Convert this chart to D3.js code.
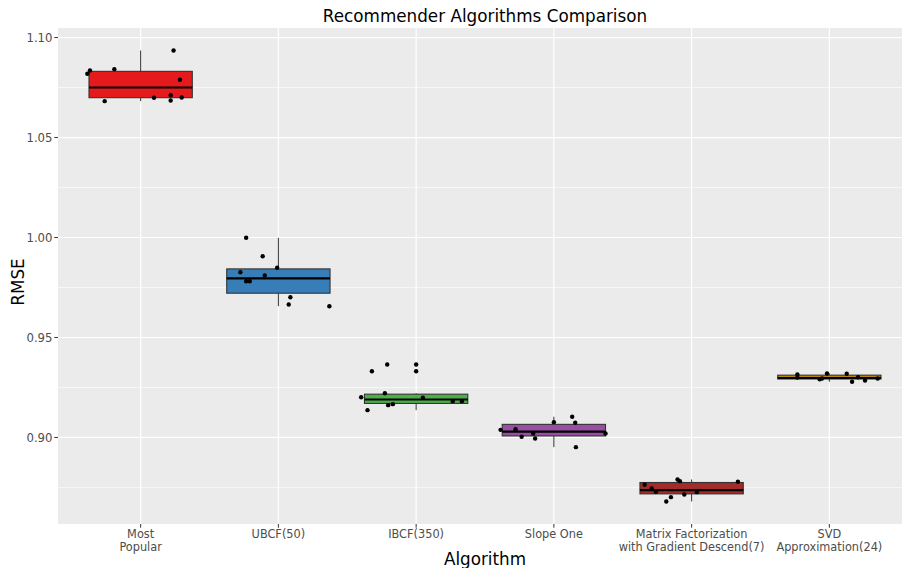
<!DOCTYPE html>
<html>
<head>
<meta charset="utf-8">
<script src="https://cdn.jsdelivr.net/npm/d3@7"></script>
<style>
  html, body { margin: 0; padding: 0; background: #ffffff; }
  svg { display: block; font-family: "DejaVu Sans", sans-serif; }
</style>
</head>
<body>
<svg id="chart" width="902" height="568"></svg>
<script>
// ---------------- data ----------------
const categories = [
  "Most\nPopular",
  "UBCF(50)",
  "IBCF(350)",
  "Slope One",
  "Matrix Factorization\nwith Gradient Descend(7)",
  "SVD\nApproximation(24)"
];
const boxColors = ["#E41A1C", "#377EB8", "#4DAF4A", "#984EA3", "#A52A2A", "#B8860B"];

const mostPopular = [1.0819, 1.0835, 1.0842, 1.0682, 1.0935, 1.0789, 1.0699, 1.0712, 1.0685, 1.0700];
const mostPopularJitter = [-0.387, -0.368, -0.191, -0.261, 0.239, 0.285, 0.097, 0.218, 0.218, 0.298];

const ubcf = [0.99985, 0.99065, 0.98485, 0.98265, 0.9810, 0.97815, 0.97815, 0.97015, 0.9665, 0.96565];
const ubcfJitter = [-0.234, -0.114, -0.009, -0.276, -0.099, -0.234, -0.208, 0.087, 0.075, 0.370];

const ibcf = [0.93315, 0.9365, 0.92015, 0.92215, 0.91985, 0.91365, 0.91615, 0.91665, 0.91815, 0.91815];
const ibcfJitter = [-0.321, -0.210, -0.399, -0.227, 0.049, -0.353, -0.203, -0.169, 0.266, 0.332];

const slopeOne = [0.9038, 0.90415, 0.90035, 0.902, 0.8995, 0.90765, 0.91035, 0.90735, 0.89515, 0.902];
const slopeOneJitter = [-0.387, -0.278, -0.234, -0.150, -0.136, 0.0, 0.133, 0.155, 0.160, 0.375];

const matrixFact = [0.87635, 0.8745, 0.87285, 0.868, 0.87015, 0.879, 0.87815, 0.8715, 0.87265, 0.87785];
const matrixFactJitter = [-0.341, -0.290, -0.259, -0.184, -0.150, -0.102, -0.085, -0.053, 0.038, 0.336];

const svd = [0.9315, 0.930, 0.92915, 0.9295, 0.932, 0.93185, 0.92785, 0.93015, 0.9285, 0.9295];
const svdJitter = [-0.232, -0.232, -0.070, -0.053, -0.017, 0.126, 0.165, 0.208, 0.259, 0.351];

const yMajorTicks = [0.90, 0.95, 1.00, 1.05, 1.10];
const yMinorTicks = [0.875, 0.925, 0.975, 1.025, 1.075];

const titleText = "Recommender Algorithms Comparison";
const xTitle = "Algorithm";
const yTitle = "RMSE";

// ---------------- build ----------------
const seriesValues = [mostPopular, ubcf, ibcf, slopeOne, matrixFact, svd];
const seriesJitter = [mostPopularJitter, ubcfJitter, ibcfJitter, slopeOneJitter, matrixFactJitter, svdJitter];

const svg = d3.select("#chart");
const panel = { left: 58, right: 912, top: 28, bottom: 524 };

const x = d3.scalePoint().domain(categories).range([panel.left, panel.right]).padding(0.6);
const step = x.step();

const allVals = seriesValues.flat();
const vMin = d3.min(allVals), vMax = d3.max(allVals);
const pad = (vMax - vMin) * 0.05;
const y = d3.scaleLinear().domain([vMin - pad, vMax + pad]).range([panel.bottom, panel.top]);

// panel background
svg.append("rect")
  .attr("x", panel.left).attr("y", panel.top)
  .attr("width", panel.right - panel.left).attr("height", panel.bottom - panel.top)
  .attr("fill", "#EBEBEB");

// minor grid
svg.append("g").selectAll("line").data(yMinorTicks).join("line")
  .attr("x1", panel.left).attr("x2", panel.right)
  .attr("y1", d => y(d)).attr("y2", d => y(d))
  .attr("stroke", "#ffffff").attr("stroke-width", 0.6);

// major grid
svg.append("g").selectAll("line").data(yMajorTicks).join("line")
  .attr("x1", panel.left).attr("x2", panel.right)
  .attr("y1", d => y(d)).attr("y2", d => y(d))
  .attr("stroke", "#ffffff").attr("stroke-width", 1.2);
svg.append("g").selectAll("line").data(categories).join("line")
  .attr("x1", d => x(d)).attr("x2", d => x(d))
  .attr("y1", panel.top).attr("y2", panel.bottom)
  .attr("stroke", "#ffffff").attr("stroke-width", 1.2);

// box stats
const stats = seriesValues.map((vals, i) => {
  const s = vals.slice().sort(d3.ascending);
  const q1 = d3.quantile(s, 0.25), med = d3.quantile(s, 0.5), q3 = d3.quantile(s, 0.75);
  const iqr = q3 - q1;
  const lo = q1 - 1.5 * iqr, hi = q3 + 1.5 * iqr;
  const inside = s.filter(v => v >= lo && v <= hi);
  return {
    cat: categories[i], color: boxColors[i],
    q1, med, q3, wLo: d3.min(inside), wHi: d3.max(inside),
    outliers: s.filter(v => v < lo || v > hi)
  };
});

const boxW = step * 0.75;
const gBox = svg.append("g");
stats.forEach(st => {
  const cx = x(st.cat);
  const g = gBox.append("g");
  g.append("line").attr("x1", cx).attr("x2", cx)
    .attr("y1", y(st.wHi)).attr("y2", y(st.q3))
    .attr("stroke", "#333333").attr("stroke-width", 1);
  g.append("line").attr("x1", cx).attr("x2", cx)
    .attr("y1", y(st.q1)).attr("y2", y(st.wLo))
    .attr("stroke", "#333333").attr("stroke-width", 1);
  g.append("rect")
    .attr("x", cx - boxW / 2).attr("width", boxW)
    .attr("y", y(st.q3)).attr("height", y(st.q1) - y(st.q3))
    .attr("fill", st.color).attr("stroke", "#333333").attr("stroke-width", 1.1);
  g.append("line")
    .attr("x1", cx - boxW / 2).attr("x2", cx + boxW / 2)
    .attr("y1", y(st.med)).attr("y2", y(st.med))
    .attr("stroke", "#000000").attr("stroke-width", 2.1);
  g.selectAll("circle.out").data(st.outliers).join("circle")
    .attr("class", "out")
    .attr("cx", cx).attr("cy", d => y(d)).attr("r", 2.2).attr("fill", "#000");
});

// jittered points
const points = [];
seriesValues.forEach((vals, i) => vals.forEach((v, j) => points.push({ cat: categories[i], v, jit: seriesJitter[i][j] })));
svg.append("g").selectAll("circle").data(points).join("circle")
  .attr("cx", d => x(d.cat) + d.jit * step)
  .attr("cy", d => y(d.v))
  .attr("r", 2.2)
  .attr("fill", "#000000");

// y axis
const yAxis = svg.append("g");
yAxis.selectAll("line").data(yMajorTicks).join("line")
  .attr("x1", panel.left - 3.7).attr("x2", panel.left)
  .attr("y1", d => y(d)).attr("y2", d => y(d))
  .attr("stroke", "#333333").attr("stroke-width", 1);
yAxis.selectAll("text").data(yMajorTicks).join("text")
  .attr("x", panel.left - 5.5).attr("y", d => y(d))
  .attr("dy", "0.35em")
  .attr("text-anchor", "end")
  .attr("font-size", "11.7px")
  .attr("fill", "#4D4D4D")
  .text(d => d3.format(".2f")(d));

// x axis
const xAxis = svg.append("g");
xAxis.selectAll("line").data(categories).join("line")
  .attr("x1", d => x(d)).attr("x2", d => x(d))
  .attr("y1", panel.bottom).attr("y2", panel.bottom + 3.7)
  .attr("stroke", "#333333").attr("stroke-width", 1);
const xt = xAxis.selectAll("text").data(categories).join("text")
  .attr("text-anchor", "middle")
  .attr("font-size", "12.6px")
  .attr("font-family", "'DejaVu Sans Condensed', 'DejaVu Sans', sans-serif")
  .attr("fill", "#4D4D4D");
xt.each(function (d) {
  const lines = d.split("\n");
  d3.select(this).selectAll("tspan").data(lines).join("tspan")
    .attr("x", x(d))
    .attr("y", (l, k) => panel.bottom + 13.5 + k * 13.3)
    .text(l => l);
});

// titles
svg.append("text")
  .attr("x", (panel.left + panel.right) / 2).attr("y", 21.5)
  .attr("text-anchor", "middle").attr("font-size", "16.8px").attr("fill", "#000")
  .text(titleText);
svg.append("text")
  .attr("x", (panel.left + panel.right) / 2).attr("y", 565)
  .attr("text-anchor", "middle").attr("font-size", "16.8px").attr("fill", "#000")
  .text(xTitle);
svg.append("text")
  .attr("transform", `translate(23.5, ${(panel.top + panel.bottom) / 2 + 6}) rotate(-90)`)
  .attr("text-anchor", "middle").attr("font-size", "16.8px").attr("fill", "#000")
  .text(yTitle);
</script>
</body>
</html>
